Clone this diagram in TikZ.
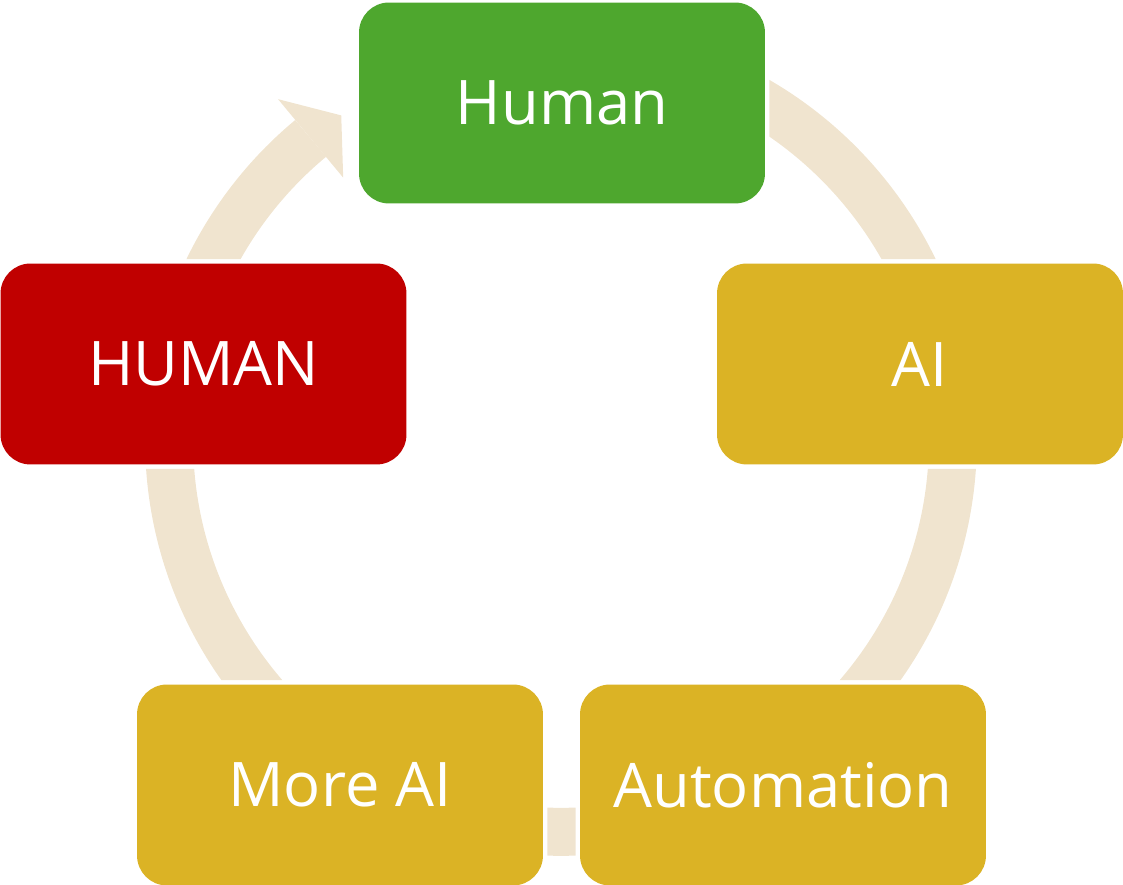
\documentclass[tikz,border=0pt]{standalone}
\usepackage{fontspec}
\setmainfont{Open Sans}

\definecolor{stepgreen}{HTML}{4EA72E}
\definecolor{stepgold}{HTML}{DBB325}
\definecolor{stepred}{HTML}{C00000}
\definecolor{ringtan}{HTML}{F0E4CF}

\begin{document}
\begin{tikzpicture}[x=0.02cm, y=0.02cm,
    box/.style={rectangle, rounded corners=0.6cm, minimum width=8.12cm, minimum height=4.02cm,
                inner sep=0pt, outer sep=0pt, text=white, font=\fontsize{35}{42}\selectfont},
    ring/.style={draw=ringtan, line width=0.96cm}]
                \useasboundingbox (0,0) rectangle (1123,885);

                % Boxes:
                \node[box, fill=stepgreen] (human) at (562,782) {Human};
                \node[box, fill=stepgold] (ai) at (920,521) {AI};
                \node[box, fill=stepgold] (automation) at (783,100) {Automation};
                \node[box, fill=stepgold] (moreai) at (340,100) {More AI};
                \node[box, fill=stepred] (humancaps) at (203.5,521) {HUMAN};

                % Ring, cut away round the boxes:
                \coordinate (c) at (561,445);
                \begin{scope}[even odd rule]
                    \clip (-50,-50) rectangle (1200,950)
                        ([shift={(-4.5,-4.5)}]human.south west) rectangle ([shift={(4.5,4.5)}]human.north east)
                        ([shift={(-4.5,-4.5)}]ai.south west) rectangle ([shift={(4.5,4.5)}]ai.north east)
                        ([shift={(-4.5,-4.5)}]automation.south west) rectangle ([shift={(4.5,4.5)}]automation.north east)
                        ([shift={(-4.5,-4.5)}]moreai.south west) rectangle ([shift={(4.5,4.5)}]moreai.north east)
                        ([shift={(-4.5,-4.5)}]humancaps.south west) rectangle ([shift={(4.5,4.5)}]humancaps.north east);
                    \draw[ring] ([shift={(90:392)}]c) arc[start angle=90, end angle=-230.3, radius=7.84cm];
                \end{scope}

                % Arrow head:
                \fill[ringtan] ([shift={(129.7:443)}]c) -- ([shift={(124.1:392)}]c) -- ([shift={(129.7:341)}]c) -- cycle;
            \end{tikzpicture}
\end{document}
